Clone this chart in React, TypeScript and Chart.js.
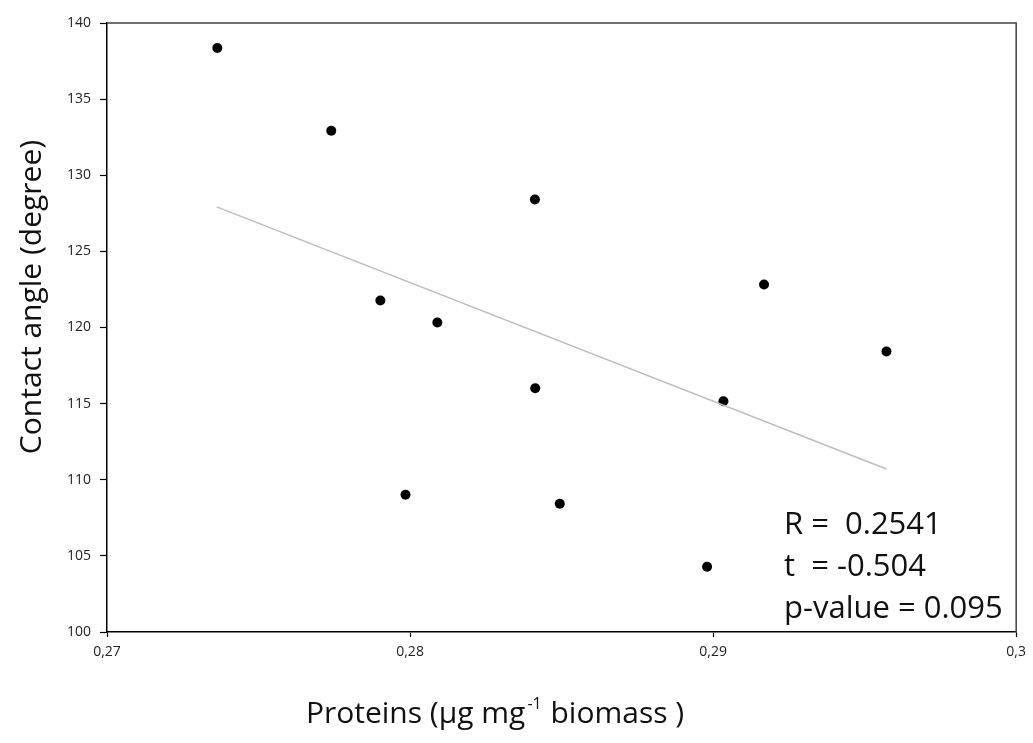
import React, { useEffect, useRef } from "react";
import { Chart, registerables } from "chart.js";

Chart.register(...registerables);

const proteins = [0.27364, 0.2774, 0.28412, 0.27902, 0.2809, 0.29168, 0.29572, 0.28413, 0.29034, 0.27985, 0.28494, 0.2898];
const contactAngle = [138.36, 132.92, 128.41, 121.77, 120.33, 122.82, 118.42, 116.01, 115.16, 109.01, 108.42, 104.28];
const trendX = [0.27362, 0.29572];
const trendY = [127.92, 110.71];
const xTicks = [0.27, 0.28, 0.29, 0.3];
const xTickLabels = ["0,27", "0,28", "0,29", "0,3"];
const yTicks = [100, 105, 110, 115, 120, 125, 130, 135, 140];
const statsLines = ["R =  0.2541", "t  = -0.504", "p-value = 0.095"];
const yTitle = "Contact angle (degree)";
const xTitleParts = ["Proteins (\u00b5g mg", "-1", " biomass )"];

const FONT = "'Open Sans', 'Noto Sans', sans-serif";

const decorPlugin = {
  id: "decor",
  afterDraw(chart: any) {
    const { ctx, chartArea } = chart;
    ctx.save();
    ctx.strokeStyle = "#404040";
    ctx.lineWidth = 1.5;
    ctx.beginPath();
    ctx.moveTo(chartArea.left, chartArea.top);
    ctx.lineTo(chartArea.right, chartArea.top);
    ctx.lineTo(chartArea.right, chartArea.bottom);
    ctx.stroke();

    ctx.fillStyle = "#111";
    ctx.save();
    ctx.translate(32, 297);
    ctx.rotate(-Math.PI / 2);
    ctx.font = `30px ${FONT}`;
    ctx.textAlign = "center";
    ctx.textBaseline = "middle";
    ctx.fillText(yTitle, 0, 0);
    ctx.restore();

    const big = `30px ${FONT}`;
    const small = `16px ${FONT}`;
    ctx.textBaseline = "alphabetic";
    ctx.textAlign = "left";
    ctx.font = big;
    const w0 = ctx.measureText(xTitleParts[0]).width;
    const w2 = ctx.measureText(xTitleParts[2]).width;
    ctx.font = small;
    const w1 = ctx.measureText(xTitleParts[1]).width + 3;
    const total = w0 + w1 + w2;
    let x = 495 - total / 2;
    const base = 723;
    ctx.font = big;
    ctx.fillText(xTitleParts[0], x, base);
    x += w0 + 2;
    ctx.font = small;
    ctx.fillText(xTitleParts[1], x, base - 14);
    x += w1 - 2;
    ctx.font = big;
    ctx.fillText(xTitleParts[2], x, base);

    ctx.font = `31px ${FONT}`;
    const baselines = [534, 576, 618];
    statsLines.forEach((s, i) => ctx.fillText(s, 784, baselines[i]));
    ctx.restore();
  },
};

export default function App() {
  const ref = useRef<HTMLCanvasElement | null>(null);
  useEffect(() => {
    if (!ref.current) return;
    const chart = new Chart(ref.current, {
      type: "scatter",
      data: {
        datasets: [
          {
            type: "line",
            data: trendX.map((x, i) => ({ x, y: trendY[i] })),
            borderColor: "#bdbdbd",
            borderWidth: 1.5,
            pointRadius: 0,
            fill: false,
          } as any,
          {
            data: proteins.map((x, i) => ({ x, y: contactAngle[i] })),
            backgroundColor: "#000",
            borderColor: "#000",
            pointRadius: 5,
            pointBorderWidth: 0,
          },
        ],
      },
      options: {
        animation: false,
        responsive: false,
        devicePixelRatio: 1,
        layout: { padding: { top: 23, right: 15, bottom: 0, left: 0 } },
        plugins: { legend: { display: false }, tooltip: { enabled: false } },
        scales: {
          x: {
            type: "linear",
            min: 0.27,
            max: 0.3,
            afterBuildTicks: (s: any) => {
              s.ticks = xTicks.map((v) => ({ value: v }));
            },
            afterFit: (s: any) => {
              s.height = 111;
            },
            ticks: {
              callback: (_v: any, i: number) => xTickLabels[i],
              font: { size: 14, family: FONT },
              color: "#222",
              padding: 7,
              maxRotation: 0,
            },
            grid: { drawOnChartArea: false, tickLength: 5, tickColor: "#000", tickWidth: 1.2 },
            border: { color: "#000", width: 1.5 },
          },
          y: {
            type: "linear",
            min: 100,
            max: 140,
            afterBuildTicks: (s: any) => {
              s.ticks = yTicks.map((v) => ({ value: v }));
            },
            afterFit: (s: any) => {
              s.width = 107;
            },
            ticks: {
              font: { size: 14, family: FONT },
              color: "#222",
              padding: 9,
            },
            grid: { drawOnChartArea: false, tickLength: 7, tickColor: "#000", tickWidth: 1.2 },
            border: { color: "#000", width: 1.5 },
          },
        },
      },
      plugins: [decorPlugin],
    });
    return () => chart.destroy();
  }, []);
  return (
    <div style={{ position: "absolute", left: 0, top: 0, width: 1033, height: 743, background: "#fff" }}>
      <canvas ref={ref} width={1033} height={743} />
    </div>
  );
}
